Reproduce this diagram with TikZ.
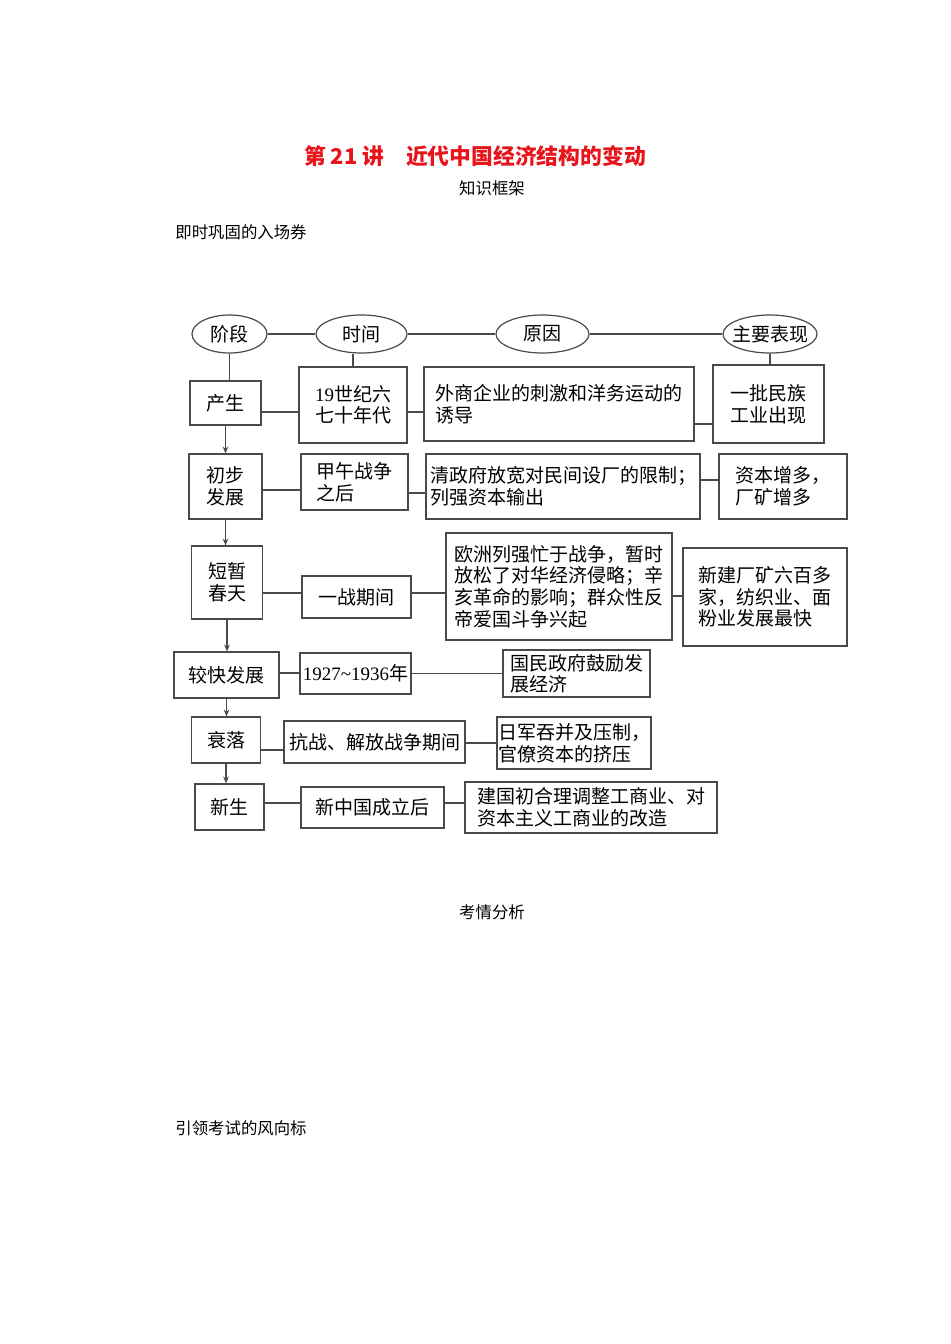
\documentclass[tikz,border=0pt]{standalone}
\usepackage{fontspec}
\newfontfamily\cjk{Noto Sans CJK SC}
\newfontfamily\digits{Liberation Serif}
\usetikzlibrary{arrows.meta, shapes.geometric}
\definecolor{titlered}{HTML}{E8141B}
\definecolor{linegray}{HTML}{4A4A4A}

\begin{document}
\begin{tikzpicture}[x=0.5pt, y=-0.5pt,
  every node/.style={font=\cjk\fontsize{9.5}{10.8}\selectfont},
  head/.style={ellipse, draw=linegray, line width=0.6pt, minimum height=19pt, inner sep=0pt},
  box/.style={draw=linegray, line width=0.6pt, inner sep=0.5pt, align=left},
  link/.style={draw=linegray, line width=0.6pt},
  arr/.style={link, -{Stealth[length=3.4pt, width=2.8pt]}},
  plain/.style={font=\cjk\fontsize{8.2}{10}\selectfont, inner sep=0pt}]
  \useasboundingbox (0,0) rectangle (950,1344);

  % page headings
  \node[font=\cjk\bfseries\fontsize{10.9}{13}\selectfont, text=titlered] (title) at (475,156)
    {第 21 讲\hspace{1em}近代中国经济结构的变动};
  \node[plain] (kframe) at (492,188) {知识框架};
  \node[plain, anchor=west] (warmup) at (175,232) {即时巩固的入场券};
  \node[plain] (analysis) at (492,912) {考情分析};
  \node[plain, anchor=west] (trend) at (175,1128) {引领考试的风向标};

  % column heads
  \node[head, minimum width=37.5pt] (hStage) at (229.5,334) {\makebox[0pt]{阶段}};
  \node[head, minimum width=45.5pt] (hTime) at (361.5,334) {\makebox[0pt]{时间}};
  \node[head, minimum width=46.5pt] (hCause) at (542.5,334) {\makebox[0pt]{原因}};
  \node[head, minimum width=47pt] (hShow) at (770,334) {\makebox[0pt]{主要表现}};

  % stage 1
  \node[box, minimum width=35.5pt, minimum height=22pt] (s1) at (225.5,403) {产生};
  \node[box, minimum width=54pt, minimum height=38pt] (t1) at (353,405) {{\digits 19}世纪六\\七十年代};
  \node[box, minimum width=135pt, minimum height=37pt] (c1) at (559,404) {外商企业的刺激和洋务运动的\\诱导};
  \node[box, minimum width=55.5pt, minimum height=39pt] (m1) at (768.5,404) {一批民族\\工业出现};
  % stage 2
  \node[box, minimum width=36.5pt, minimum height=32.5pt] (s2) at (225.5,486.5) {初步\\发展};
  \node[box, minimum width=53.5pt, minimum height=28pt] (t2) at (354.5,482) {甲午战争\\之后};
  \node[box, minimum width=137pt, minimum height=32.5pt] (c2) at (563,486.5) {清政府放宽对民间设厂的限制；\\列强资本输出};
  \node[box, minimum width=64pt, minimum height=32.5pt] (m2) at (783,486.5) {资本增多，\\厂矿增多};
  % stage 3
  \node[box, minimum width=35.5pt, minimum height=36.5pt] (s3) at (227,582.5) {短暂\\春天};
  \node[box, minimum width=54.5pt, minimum height=21pt] (t3) at (356.5,597) {一战期间};
  \node[box, minimum width=113pt, minimum height=53.5pt] (c3) at (559,586.5)
    {欧洲列强忙于战争，暂时\\放松了对华经济侵略；辛\\亥革命的影响；群众性反\\帝爱国斗争兴起};
  \node[box, minimum width=82pt, minimum height=49pt] (m3) at (765,597) {新建厂矿六百多\\家，纺织业、面\\粉业发展最快};
  % stage 4
  \node[box, minimum width=52.5pt, minimum height=23pt] (s4) at (226.5,675) {较快发展};
  \node[box, minimum width=55.5pt, minimum height=20.5pt] (t4) at (355.5,673.5) {{\digits 1927\textasciitilde 1936}年};
  \node[box, minimum width=73.5pt, minimum height=23.5pt] (c4) at (576.5,673.5) {国民政府鼓励发\\展经济};
  % stage 5
  \node[box, minimum width=34.5pt, minimum height=23pt] (s5) at (226,740) {衰落};
  \node[box, minimum width=90.5pt, minimum height=21pt] (t5) at (374.5,742) {抗战、解放战争期间};
  \node[box, minimum width=77pt, minimum height=26pt] (c5) at (574,743) {日军吞并及压制，\\官僚资本的挤压};
  % stage 6
  \node[box, minimum width=34.5pt, minimum height=23pt] (s6) at (229.5,807) {新生};
  \node[box, minimum width=71.5pt, minimum height=20.5pt] (t6) at (372.5,807.5) {新中国成立后};
  \node[box, minimum width=126pt, minimum height=25.5pt] (c6) at (591,807.5) {建国初合理调整工商业、对\\资本主义工商业的改造};

  % head line and drops
  \draw[link] (hStage) -- (hTime) -- (hCause) -- (hShow);
  \draw[link] (hStage.south) -- (hStage.south |- s1.north);
  \draw[link] (t1.north) -- (t1.north |- hTime.south);
  \draw[link] (hShow.south) -- (hShow.south |- m1.north);

  % stage arrows
  \foreach \a/\b in {s1/s2, s2/s3, s3/s4, s4/s5, s5/s6}
    \draw[arr] (\a.south) -- (\a.south |- \b.north);

  % row links
  \foreach \a/\b/\dy in {s1/t1/-4.5pt, t1/c1/-3.5pt, c1/m1/-10pt,
      s2/t2/-1.75pt, t2/c2/-5.5pt, c2/m2/3.25pt,
      s3/t3/-5.25pt, t3/c3/2pt, c3/m3/-4.75pt,
      s4/t4/1pt, t4/c4/0pt,
      s5/t5/-5pt, t5/c5/-0.5pt,
      s6/t6/2pt, t6/c6/2.25pt}
    \draw[link] ([yshift=\dy]\a.east) -- ([yshift=\dy]\a.east -| \b.west);
\end{tikzpicture}
\end{document}
